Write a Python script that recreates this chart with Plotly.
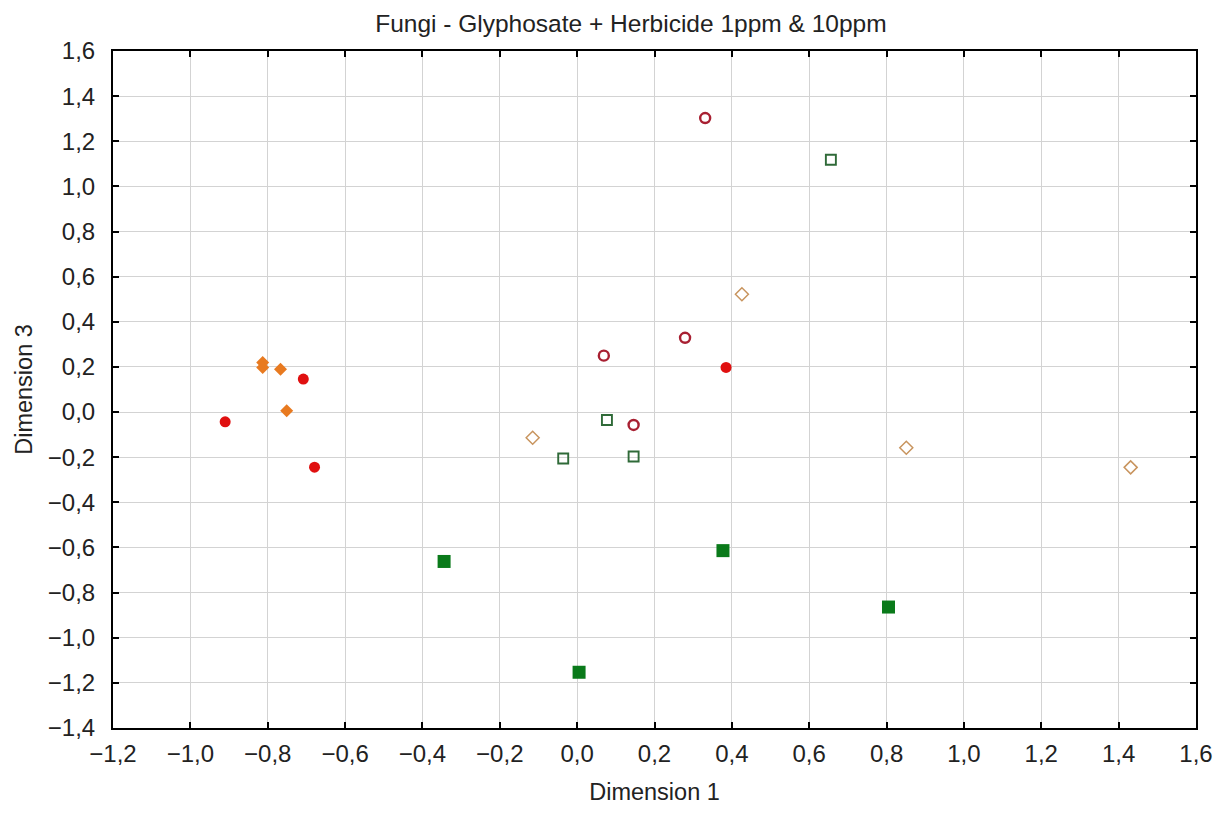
import plotly.graph_objects as go

# Filled red circles
red_fill_x = [-0.910, -0.708, -0.679, 0.385]
red_fill_y = [-0.043, 0.146, -0.244, 0.198]
# Filled orange diamonds
orange_fill_x = [-0.813, -0.813, -0.767, -0.751]
orange_fill_y = [0.220, 0.198, 0.190, 0.006]
# Open red circles
red_open_x = [0.331, 0.069, 0.279, 0.146]
red_open_y = [1.303, 0.250, 0.329, -0.057]
# Open green squares
green_open_x = [0.656, 0.077, -0.036, 0.146]
green_open_y = [1.118, -0.035, -0.206, -0.197]
# Filled green squares
green_fill_x = [-0.344, 0.005, 0.377, 0.805]
green_fill_y = [-0.662, -1.153, -0.614, -0.864]
# Open orange diamonds
orange_open_x = [-0.115, 0.426, 0.851, 1.431]
orange_open_y = [-0.114, 0.522, -0.158, -0.245]

tick_vals_x = [round(-1.2 + 0.2 * i, 1) for i in range(15)]
tick_vals_y = [round(-1.4 + 0.2 * i, 1) for i in range(16)]

FONT = "Liberation Sans, Arial"

fig = go.Figure()
fig.add_trace(go.Scatter(x=red_fill_x, y=red_fill_y, mode="markers",
                         marker=dict(symbol="circle", size=11, color="#e01010",
                                     line=dict(width=0))))
fig.add_trace(go.Scatter(x=orange_fill_x, y=orange_fill_y, mode="markers",
                         marker=dict(symbol="diamond", size=10, color="#e87a20",
                                     line=dict(width=0))))
fig.add_trace(go.Scatter(x=red_open_x, y=red_open_y, mode="markers",
                         marker=dict(symbol="circle-open", size=10, color="#a82032",
                                     line=dict(width=2.4))))
fig.add_trace(go.Scatter(x=green_open_x, y=green_open_y, mode="markers",
                         marker=dict(symbol="square-open", size=10, color="#2f6a38",
                                     line=dict(width=1.9))))
fig.add_trace(go.Scatter(x=green_fill_x, y=green_fill_y, mode="markers",
                         marker=dict(symbol="square", size=13, color="#0a7a1a",
                                     line=dict(width=0))))
fig.add_trace(go.Scatter(x=orange_open_x, y=orange_open_y, mode="markers",
                         marker=dict(symbol="diamond-open", size=10, color="#c8945e",
                                     line=dict(width=1.5))))

axis_common = dict(
    showline=True, linecolor="black", linewidth=2, mirror="ticks",
    ticks="inside", ticklen=6, tickcolor="black", tickwidth=1.5,
    showgrid=True, gridcolor="#d3d3d3", gridwidth=1, zeroline=False,
    tickformat=".1f", tickfont=dict(family=FONT, size=24, color="#222"),
)

fig.update_layout(
    width=1225, height=813,
    margin=dict(l=113, r=20, t=51, b=77),
    paper_bgcolor="white", plot_bgcolor="white",
    showlegend=False,
    separators=",.",
    font=dict(family=FONT, color="#222"),
    title=dict(text="Fungi - Glyphosate + Herbicide 1ppm & 10ppm",
               x=0.515, xanchor="center", y=0.9717, yanchor="middle",
               font=dict(size=24.5, family=FONT, color="#222")),
    xaxis=dict(range=[-1.2, 1.6], tickvals=tick_vals_x, ticklabelstandoff=3,
               title=dict(text="Dimension 1", standoff=18,
                          font=dict(size=23.5, family=FONT)),
               **axis_common),
    yaxis=dict(range=[-1.4, 1.6], tickvals=tick_vals_y, ticklabelstandoff=11,
               title=dict(text="Dimension 3", standoff=9,
                          font=dict(size=23.5, family=FONT)),
               **axis_common),
)

fig.write_html("out.html",
               config={"displayModeBar": False},
               post_script="document.body.style.margin='0';document.body.style.overflow='hidden';")
